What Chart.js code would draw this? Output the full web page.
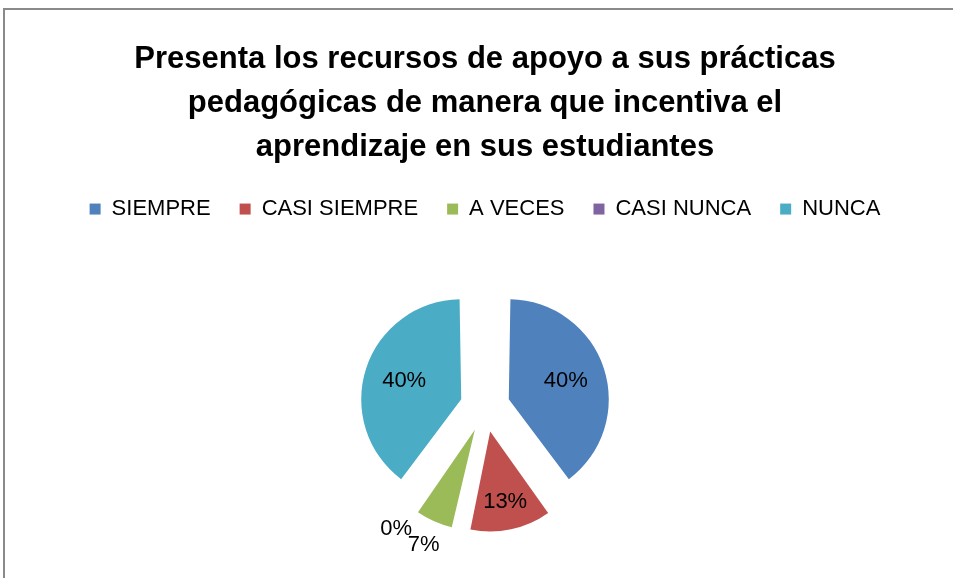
<!DOCTYPE html>
<html>
<head>
<meta charset="utf-8">
<script src="https://cdn.jsdelivr.net/npm/chart.js@4.4.1/dist/chart.umd.min.js"></script>
<style>
  html, body { margin: 0; padding: 0; background: #fff; overflow: hidden; }
  #wrap { width: 953px; height: 578px; overflow: hidden; }
</style>
</head>
<body>
<div id="wrap"><canvas id="myChart" width="953" height="584"></canvas></div>
<script>
const categories = ['SIEMPRE', 'CASI SIEMPRE', 'A VECES', 'CASI NUNCA', 'NUNCA'];
const counts = [6, 2, 1, 0, 6];
const colors = ['#4F81BD', '#C0504D', '#9BBB59', '#8064A2', '#4BACC6'];
const titleLines = [
  'Presenta los recursos de apoyo a sus prácticas',
  'pedagógicas de manera que incentiva el',
  'aprendizaje en sus estudiantes'
];

const FONT = "'Liberation Sans', Arial, sans-serif";
const EXPLODE = 25;  // px each slice is pulled out
const PIE_R = 100;   // drawn radius of every slice

// gray frame of the chart (goes past right and bottom edge)
const framePlugin = {
  id: 'frame',
  beforeDraw(chart) {
    const c = chart.ctx;
    c.save();
    c.strokeStyle = '#8a8a8a';
    c.lineWidth = 2;
    c.strokeRect(4, 9, 2000, 2000);
    c.restore();
  }
};

// v4 also grows an offset arc by offset*(1 - sin(circumference)); undo that
// so every exploded slice keeps the same radius, like the excel chart
const evenRadius = {
  id: 'evenRadius',
  afterDatasetUpdate(chart, args) {
    const meta = chart.getDatasetMeta(args.index);
    meta.data.forEach(arc => {
      const fix = 1 - Math.sin(Math.min(Math.PI, arc.circumference || 0));
      arc.outerRadius = PIE_R - EXPLODE * fix;
    });
  }
};

// percentage labels, inside big slices, outside small ones
const pctLabels = {
  id: 'pctLabels',
  afterDatasetsDraw(chart) {
    const c = chart.ctx;
    const meta = chart.getDatasetMeta(0);
    const data = chart.data.datasets[0].data;
    const total = data.reduce((a, b) => a + b, 0);
    c.save();
    c.font = '22px ' + FONT;
    c.fillStyle = '#000';
    c.textAlign = 'center';
    c.textBaseline = 'middle';
    meta.data.forEach((arc, i) => {
      const p = arc.getProps(['x', 'y', 'startAngle', 'endAngle'], true);
      const share = data[i] / total;
      const mid = (p.startAngle + p.endAngle) / 2;
      let r;
      if (share >= 0.3) r = PIE_R * 0.6;
      else if (share >= 0.1) r = PIE_R * 0.72;
      else r = PIE_R + 26;
      r += EXPLODE;
      const x = p.x + Math.cos(mid) * r;
      const y = p.y + Math.sin(mid) * r;
      c.fillText(Math.round(share * 100) + '%', x, y);
    });
    c.restore();
  }
};

const ctx = document.getElementById('myChart');

new Chart(ctx, {
  type: 'pie',
  data: {
    labels: categories,
    datasets: [{
      data: counts,
      backgroundColor: colors,
      borderWidth: 0,
      offset: EXPLODE * 4, // v4 translates slices by offset / 4
      radius: PIE_R
    }]
  },
  options: {
    responsive: false,
    animation: false,
    layout: {
      padding: { left: 17, right: 0, top: 0, bottom: 0 }
    },
    plugins: {
      title: {
        display: true,
        text: titleLines,
        color: '#000',
        font: { family: FONT, size: 31, weight: 'bold', lineHeight: 1.42 },
        padding: { top: 37, bottom: 0 }
      },
      legend: {
        position: 'top',
        labels: {
          color: '#000',
          font: { family: FONT, size: 22 },
          boxWidth: 11,
          boxHeight: 11,
          padding: 29
        }
      },
      tooltip: { enabled: false }
    }
  },
  plugins: [framePlugin, evenRadius, pctLabels]
});
</script>
</body>
</html>
